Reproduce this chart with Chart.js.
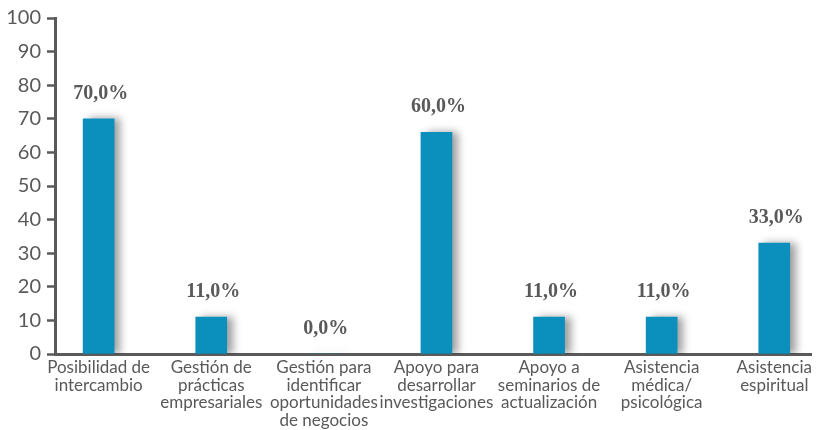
<!DOCTYPE html>
<html>
<head>
<meta charset="utf-8">
<script src="https://cdn.jsdelivr.net/npm/chart.js@4/dist/chart.umd.min.js"></script>
<style>
html,body{margin:0;padding:0;background:#fff;overflow:hidden;}
#c{display:block;}
</style>
</head>
<body>
<canvas id="c" width="817" height="430"></canvas>
<script>
const categories = [
  ["Posibilidad de","intercambio"],
  ["Gestión de","prácticas","empresariales"],
  ["Gestión para","identificar","oportunidades","de negocios"],
  ["Apoyo para","desarrollar","investigaciones"],
  ["Apoyo a","seminarios de","actualización"],
  ["Asistencia","médica/","psicológica"],
  ["Asistencia","espiritual"]
];
const values = [70, 11, 0, 66, 11, 11, 33];
const valueLabels = ["70,0%", "11,0%", "0,0%", "60,0%", "11,0%", "11,0%", "33,0%"];
const yTicks = [0,10,20,30,40,50,60,70,80,90,100];

const grey = '#595959';

const shadowPlugin = {
  id: 'barShadow',
  beforeDatasetsDraw(chart) {
    const ctx = chart.ctx;
    ctx.save();
    ctx.shadowColor = 'rgba(0,0,0,0.38)';
    ctx.shadowBlur = 8;
    ctx.shadowOffsetX = 6;
    ctx.shadowOffsetY = 0;
  },
  afterDatasetsDraw(chart) {
    chart.ctx.restore();
    const ctx = chart.ctx;
    const meta = chart.getDatasetMeta(0);
    ctx.save();
    ctx.font = 'bold 20px "Liberation Serif"';
    ctx.fillStyle = grey;
    ctx.textAlign = 'center';
    ctx.textBaseline = 'bottom';
    meta.data.forEach((el, i) => {
      ctx.fillText(valueLabels[i], el.x + 2, el.y - 15);
    });
    ctx.restore();
  }
};

new Chart(document.getElementById('c'), {
  type: 'bar',
  data: {
    datasets: [{
      data: values.map((v, i) => ({x: i, y: v})),
      backgroundColor: '#0b8fbd',
      borderWidth: 0,
      barThickness: 31
    }]
  },
  options: {
    responsive: false,
    animation: false,
    layout: {padding: {top: 17, right: 0, left: 0, bottom: 0}},
    plugins: {legend: {display: false}, tooltip: {enabled: false}},
    scales: {
      x: {
        type: 'linear',
        min: -0.3877,
        max: 6.33,
        offset: false,
        afterBuildTicks: s => { s.ticks = categories.map((_, i) => ({value: i})); },
        afterFit: s => { s.height = 76; },
        border: {display: true, color: '#5a5a5a', width: 3},
        grid: {display: false, drawTicks: false},
        ticks: {
          autoSkip: false,
          maxRotation: 0,
          padding: 5,
          color: grey,
          font: {family: 'Lato', size: 17, lineHeight: 1.03},
          callback: v => categories[v]
        }
      },
      y: {
        min: 0,
        max: 100,
        afterBuildTicks: s => { s.ticks = yTicks.map(v => ({value: v})); },
        afterFit: s => { s.width = 55; },
        border: {display: true, color: '#5a5a5a', width: 3},
        grid: {drawOnChartArea: false, drawTicks: true, tickLength: 8, tickWidth: 2.5, tickColor: '#5a5a5a'},
        ticks: {
          padding: 6,
          color: grey,
          font: {family: 'Lato', size: 20}
        }
      }
    }
  },
  plugins: [shadowPlugin]
});
</script>
</body>
</html>
